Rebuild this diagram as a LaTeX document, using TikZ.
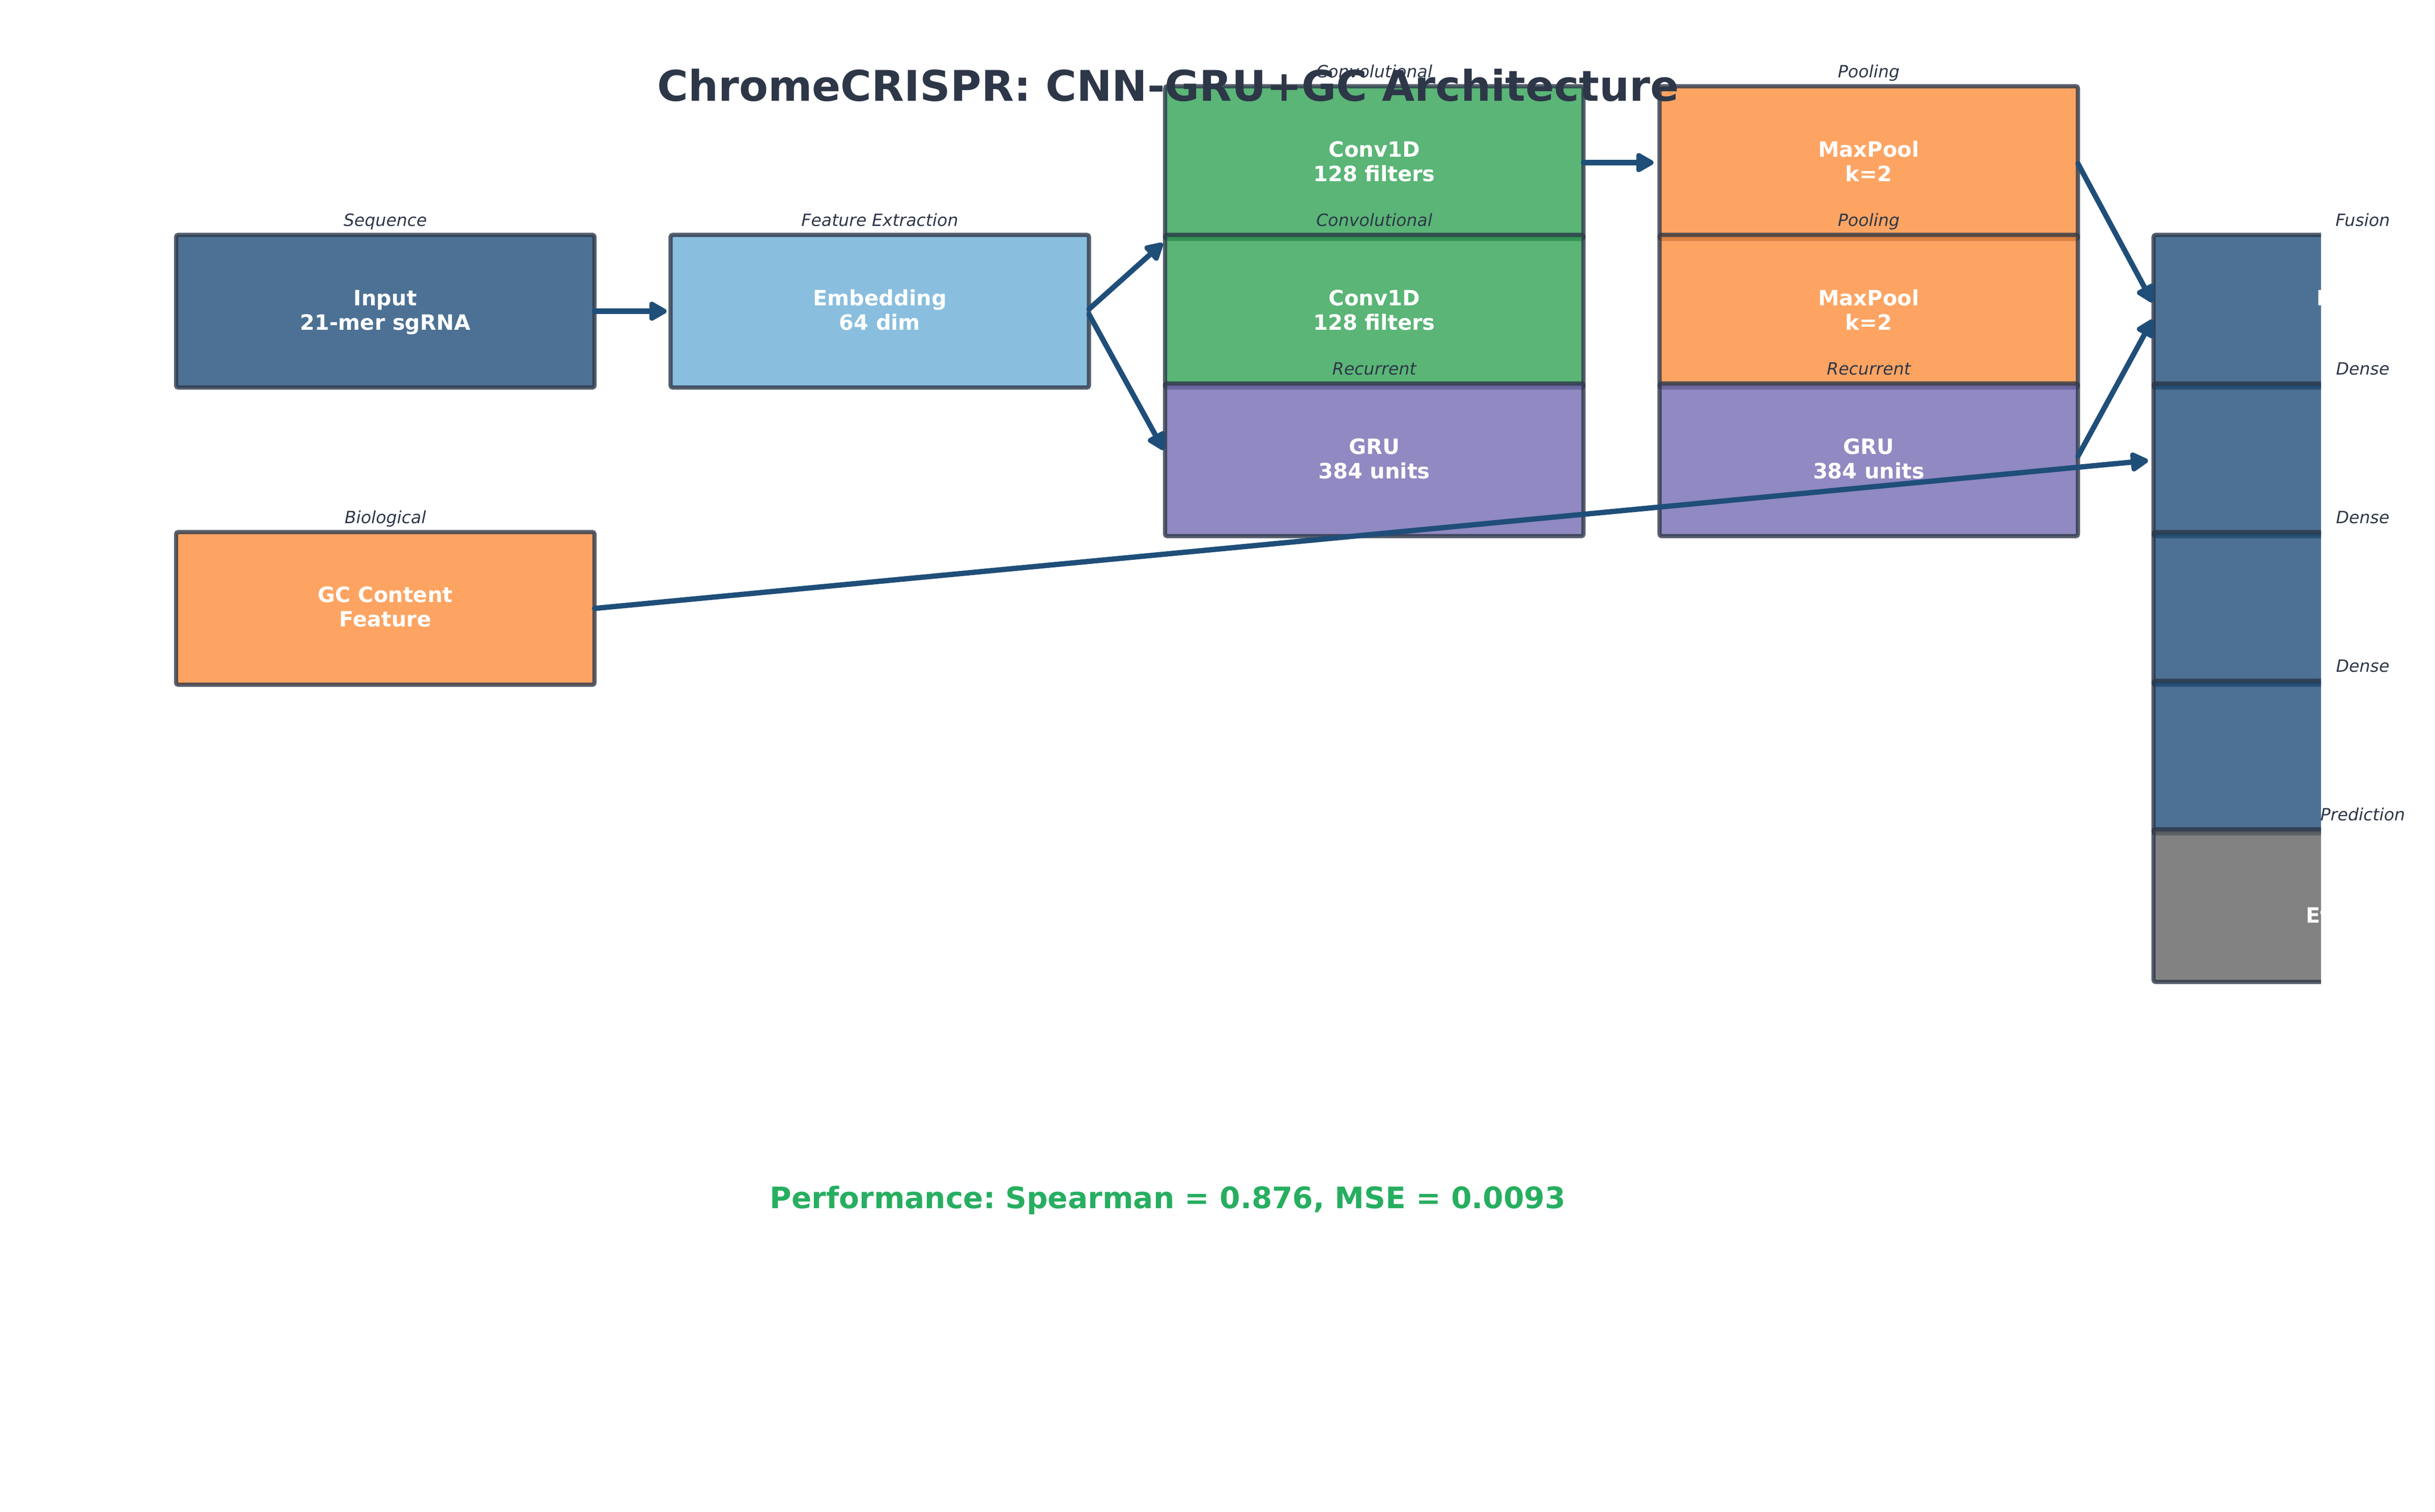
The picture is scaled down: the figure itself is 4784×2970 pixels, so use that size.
\documentclass[tikz,border=0pt]{standalone}
\usepackage{fontspec}
\setmainfont{DejaVu Sans}
\usetikzlibrary{arrows.meta,calc}
\definecolor{edgec}{HTML}{2D3748}
\definecolor{titlec}{HTML}{2D3748}
\definecolor{cblue}{HTML}{1F4E79}
\definecolor{clight}{HTML}{6BAED6}
\definecolor{cgreen}{HTML}{31A354}
\definecolor{corange}{HTML}{FD8D3C}
\definecolor{cpurple}{HTML}{756BB1}
\definecolor{cgray}{HTML}{636363}
\definecolor{cperf}{HTML}{27AE60}
\frenchspacing
\begin{document}
\begin{tikzpicture}[x=0.2409pt,y=-0.2409pt,
  layerbox/.style={draw=edgec, line width=2pt, opacity=0.8, rounded corners=1pt,
    minimum width=198pt, minimum height=72.27pt, inner sep=0pt, outer sep=0pt},
  boxtext/.style={text=white, align=center, inner sep=0pt,
    font=\bfseries\fontsize{10}{11.56}\selectfont},
  tag/.style={anchor=base, text=titlec, inner sep=0pt, font=\itshape\fontsize{8}{9.6}\selectfont},
  conn/.style={draw=cblue, line width=2.5pt, line cap=round,
    -{Triangle[length=9.5pt,width=10pt,round]}}
]
\useasboundingbox (0,0) rectangle (4784,2970);
% column 1
\node[layerbox, fill=cblue] (inp) at (757,611.5) {};
\node[boxtext] (inpt) at (757,614.5) {\strut Input\\\strut 21-mer sgRNA};
\node[layerbox, fill=corange] (gc) at (757,1195.5) {};
\node[boxtext] (gct) at (757,1197.5) {\strut GC Content\\\strut Feature};
% column 2
\node[layerbox, fill=clight] (emb) at (1728.5,611.5) {};
\node[boxtext] (embt) at (1728.5,614.5) {\strut Embedding\\\strut 64 dim};
% column 3
\node[layerbox, fill=cgreen] (conva) at (2700,319.5) {};
\node[boxtext] (convat) at (2700,322.5) {\strut Conv1D\\\strut 128 filters};
\node[layerbox, fill=cgreen] (convb) at (2700,611.5) {};
\node[boxtext] (convbt) at (2700,614.5) {\strut Conv1D\\\strut 128 filters};
\node[layerbox, fill=cpurple] (grua) at (2700,903.5) {};
\node[boxtext] (gruat) at (2700,906.5) {\strut GRU\\\strut 384 units};
% column 4
\node[layerbox, fill=corange] (poola) at (3671.5,319.5) {};
\node[boxtext] (poolat) at (3671.5,322.5) {\strut MaxPool\\\strut k=2};
\node[layerbox, fill=corange] (poolb) at (3671.5,611.5) {};
\node[boxtext] (poolbt) at (3671.5,614.5) {\strut MaxPool\\\strut k=2};
\node[layerbox, fill=cpurple] (grub) at (3671.5,903.5) {};
\node[boxtext] (grubt) at (3671.5,906.5) {\strut GRU\\\strut 384 units};
% column 5 (clipped at the plot edge)
\begin{scope}
\clip (0,0) rectangle (4560,2970);
\node[layerbox, fill=cblue] (fus) at (4642,611.5) {};
\node[boxtext, anchor=base] (fust) at (4642,600) {Feature};
\node[layerbox, fill=cblue] (densea) at (4642,903.5) {};
\node[layerbox, fill=cblue] (denseb) at (4642,1195.5) {};
\node[layerbox, fill=cblue] (densec) at (4642,1487.5) {};
\node[layerbox, fill=cgray] (outp) at (4642,1779.5) {};
\node[boxtext, anchor=base] (outpt) at (4642,1813) {Efficiency};
\end{scope}
% tags above the boxes
\node[tag] (tinp) at (757,444.5) {Sequence};
\node[tag] (tgc) at (757,1028.5) {Biological};
\node[tag] (temb) at (1728.5,444.5) {Feature Extraction};
\node[tag] (tconva) at (2700,152.5) {Convolutional};
\node[tag] (tconvb) at (2700,444.5) {Convolutional};
\node[tag] (tgrua) at (2700,736.5) {Recurrent};
\node[tag] (tpoola) at (3671.5,152.5) {Pooling};
\node[tag] (tpoolb) at (3671.5,444.5) {Pooling};
\node[tag] (tgrub) at (3671.5,736.5) {Recurrent};
\node[tag] (tfus) at (4642,444.5) {Fusion};
\node[tag] (tda) at (4642,736.5) {Dense};
\node[tag] (tdb) at (4642,1028.5) {Dense};
\node[tag] (tdc) at (4642,1320.5) {Dense};
\node[tag] (tout) at (4642,1612.5) {Prediction};
% title and performance
\node[anchor=base, inner sep=0pt, text=titlec, font=\bfseries\fontsize{20}{24}\selectfont] (title) at (2295,198) {ChromeCRISPR: CNN-GRU+GC Architecture};
\node[anchor=base, inner sep=0pt, text=cperf, font=\bfseries\fontsize{14}{17}\selectfont] (perf) at (2294,2374) {Performance: Spearman = 0.876, MSE = 0.0093};
% connectors
\draw[conn] (inp.east) -- ($(emb.west)+(-8,0)$);
\draw[conn] ($(emb.east)+(0,-4)$) -- ($(convb.north west)+(-5,16.5)$);
\draw[conn] ($(emb.east)+(0,6)$) -- ($(grua.west)+(-3,-19.5)$);
\draw[conn] (conva.east) -- ($(poola.west)+(-12,0)$);
\draw[conn] ($(poola.east)+(0,2)$) -- ($(fus.west)+(-2,-17.5)$);
\draw[conn] ($(grub.east)+(0,-7)$) -- ($(fus.west)+(-2,16.5)$);
\draw[conn] (gc.east) -- ($(densea.west)+(-11,1.5)$);
\end{tikzpicture}
\end{document}
